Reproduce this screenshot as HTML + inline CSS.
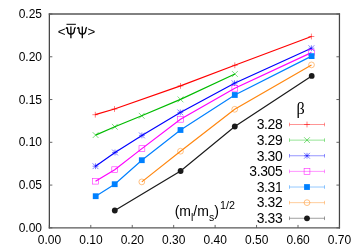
<!DOCTYPE html>
<html><head><meta charset="utf-8"><style>
html,body{margin:0;padding:0;background:#fff;}
body{width:360px;height:252px;position:relative;overflow:hidden;font-family:"Liberation Sans",sans-serif;}
svg text{font-family:"Liberation Sans",sans-serif;fill:#000;}
</style></head><body>
<svg width="360" height="252" viewBox="0 0 360 252" style="position:absolute;left:0;top:0;will-change:transform">
<path d="M49.35,13.4V228.45M339.45,13.4V228.45" fill="none" stroke="#444" stroke-width="1.25"/>
<path d="M48.75,14.0H340.05M48.75,227.85H340.05" fill="none" stroke="#585858" stroke-width="1.45"/>
<path d="M49.35,227.85v-2.9M90.79,227.85v-2.9M132.24,227.85v-2.9M173.68,227.85v-2.9M215.12,227.85v-2.9M256.56,227.85v-2.9M298.01,227.85v-2.9M339.45,227.85v-2.9M49.35,227.85h3.0M339.45,227.85h-3.0M49.35,185.08h3.0M339.45,185.08h-3.0M49.35,142.31h3.0M339.45,142.31h-3.0M49.35,99.54h3.0M339.45,99.54h-3.0M49.35,56.77h3.0M339.45,56.77h-3.0M49.35,14.00h3.0M339.45,14.00h-3.0" stroke="#555" stroke-width="0.9" fill="none"/>
<polyline points="95.30,114.70 114.50,109.00 180.50,85.90 234.80,65.30 311.40,36.50" fill="none" stroke="#ff0000" stroke-width="1.2"/>
<path d="M92.40,114.70H98.20M95.30,111.80V117.60" stroke="#ff0000" stroke-width="0.6" fill="none" opacity="0.85"/>
<path d="M111.60,109.00H117.40M114.50,106.10V111.90" stroke="#ff0000" stroke-width="0.6" fill="none" opacity="0.85"/>
<path d="M177.60,85.90H183.40M180.50,83.00V88.80" stroke="#ff0000" stroke-width="0.6" fill="none" opacity="0.85"/>
<path d="M231.90,65.30H237.70M234.80,62.40V68.20" stroke="#ff0000" stroke-width="0.6" fill="none" opacity="0.85"/>
<path d="M308.50,36.50H314.30M311.40,33.60V39.40" stroke="#ff0000" stroke-width="0.6" fill="none" opacity="0.85"/>
<polyline points="95.60,135.10 114.80,126.80 141.70,115.80 180.50,99.40 234.90,74.00" fill="none" stroke="#00bb00" stroke-width="1.2"/>
<path d="M92.70,132.20L98.50,138.00M92.70,138.00L98.50,132.20" stroke="#00bb00" stroke-width="0.6" fill="none" opacity="0.85"/>
<path d="M111.90,123.90L117.70,129.70M111.90,129.70L117.70,123.90" stroke="#00bb00" stroke-width="0.6" fill="none" opacity="0.85"/>
<path d="M138.80,112.90L144.60,118.70M138.80,118.70L144.60,112.90" stroke="#00bb00" stroke-width="0.6" fill="none" opacity="0.85"/>
<path d="M177.60,96.50L183.40,102.30M177.60,102.30L183.40,96.50" stroke="#00bb00" stroke-width="0.6" fill="none" opacity="0.85"/>
<path d="M232.00,71.10L237.80,76.90M232.00,76.90L237.80,71.10" stroke="#00bb00" stroke-width="0.6" fill="none" opacity="0.85"/>
<polyline points="95.50,166.20 115.00,152.50 141.90,135.40 180.30,112.40 234.50,83.20 311.40,48.20" fill="none" stroke="#0000ff" stroke-width="1.2"/>
<path d="M92.60,163.30L98.40,169.10M92.60,169.10L98.40,163.30M92.60,166.20H98.40M95.50,163.30V169.10" stroke="#0000ff" stroke-width="0.6" fill="none" opacity="0.85"/>
<path d="M112.10,149.60L117.90,155.40M112.10,155.40L117.90,149.60M112.10,152.50H117.90M115.00,149.60V155.40" stroke="#0000ff" stroke-width="0.6" fill="none" opacity="0.85"/>
<path d="M139.00,132.50L144.80,138.30M139.00,138.30L144.80,132.50M139.00,135.40H144.80M141.90,132.50V138.30" stroke="#0000ff" stroke-width="0.6" fill="none" opacity="0.85"/>
<path d="M177.40,109.50L183.20,115.30M177.40,115.30L183.20,109.50M177.40,112.40H183.20M180.30,109.50V115.30" stroke="#0000ff" stroke-width="0.6" fill="none" opacity="0.85"/>
<path d="M231.60,80.30L237.40,86.10M231.60,86.10L237.40,80.30M231.60,83.20H237.40M234.50,80.30V86.10" stroke="#0000ff" stroke-width="0.6" fill="none" opacity="0.85"/>
<path d="M308.50,45.30L314.30,51.10M308.50,51.10L314.30,45.30M308.50,48.20H314.30M311.40,45.30V51.10" stroke="#0000ff" stroke-width="0.6" fill="none" opacity="0.85"/>
<polyline points="95.50,181.20 114.70,169.70 141.90,148.60 180.50,119.30 234.80,88.30 311.40,52.60" fill="none" stroke="#ff00ff" stroke-width="1.2"/>
<rect x="92.60" y="178.30" width="5.8" height="5.8" stroke="#ff00ff" stroke-width="0.6" fill="none" opacity="0.85"/>
<rect x="111.80" y="166.80" width="5.8" height="5.8" stroke="#ff00ff" stroke-width="0.6" fill="none" opacity="0.85"/>
<rect x="139.00" y="145.70" width="5.8" height="5.8" stroke="#ff00ff" stroke-width="0.6" fill="none" opacity="0.85"/>
<rect x="177.60" y="116.40" width="5.8" height="5.8" stroke="#ff00ff" stroke-width="0.6" fill="none" opacity="0.85"/>
<rect x="231.90" y="85.40" width="5.8" height="5.8" stroke="#ff00ff" stroke-width="0.6" fill="none" opacity="0.85"/>
<rect x="308.50" y="49.70" width="5.8" height="5.8" stroke="#ff00ff" stroke-width="0.6" fill="none" opacity="0.85"/>
<polyline points="95.70,196.20 114.70,184.20 141.80,160.20 180.50,130.00 234.80,95.00 311.60,56.10" fill="none" stroke="#0080ff" stroke-width="1.2"/>
<rect x="92.80" y="193.30" width="5.8" height="5.8" fill="#0080ff"/>
<rect x="111.80" y="181.30" width="5.8" height="5.8" fill="#0080ff"/>
<rect x="138.90" y="157.30" width="5.8" height="5.8" fill="#0080ff"/>
<rect x="177.60" y="127.10" width="5.8" height="5.8" fill="#0080ff"/>
<rect x="231.90" y="92.10" width="5.8" height="5.8" fill="#0080ff"/>
<rect x="308.70" y="53.20" width="5.8" height="5.8" fill="#0080ff"/>
<polyline points="141.80,181.90 180.50,151.20 234.70,109.30 311.50,64.90" fill="none" stroke="#ff8710" stroke-width="1.2"/>
<circle cx="141.80" cy="181.90" r="2.9" stroke="#ff8710" stroke-width="0.6" fill="none" opacity="0.85"/>
<circle cx="180.50" cy="151.20" r="2.9" stroke="#ff8710" stroke-width="0.6" fill="none" opacity="0.85"/>
<circle cx="234.70" cy="109.30" r="2.9" stroke="#ff8710" stroke-width="0.6" fill="none" opacity="0.85"/>
<circle cx="311.50" cy="64.90" r="2.9" stroke="#ff8710" stroke-width="0.6" fill="none" opacity="0.85"/>
<polyline points="114.80,210.50 180.60,171.00 234.80,126.50 311.70,75.90" fill="none" stroke="#1a1a1a" stroke-width="1.2"/>
<circle cx="114.80" cy="210.50" r="2.9" fill="#1a1a1a"/>
<circle cx="180.60" cy="171.00" r="2.9" fill="#1a1a1a"/>
<circle cx="234.80" cy="126.50" r="2.9" fill="#1a1a1a"/>
<circle cx="311.70" cy="75.90" r="2.9" fill="#1a1a1a"/>
<path d="M289.5,124.50H324.5M289.5,122.70v3.6M324.5,122.70v3.6" stroke="#ff0000" stroke-width="0.6" fill="none" opacity="0.7"/>
<path d="M304.10,124.50H309.90M307.00,121.60V127.40" stroke="#ff0000" stroke-width="0.6" fill="none" opacity="0.85"/>
<text x="282.3" y="129.25" text-anchor="end" font-size="13.9" letter-spacing="-0.35">3.28</text>
<path d="M289.5,140.13H324.5M289.5,138.33v3.6M324.5,138.33v3.6" stroke="#00bb00" stroke-width="0.6" fill="none" opacity="0.7"/>
<path d="M304.10,137.23L309.90,143.03M304.10,143.03L309.90,137.23" stroke="#00bb00" stroke-width="0.6" fill="none" opacity="0.85"/>
<text x="282.3" y="144.88" text-anchor="end" font-size="13.9" letter-spacing="-0.35">3.29</text>
<path d="M289.5,155.76H324.5M289.5,153.96v3.6M324.5,153.96v3.6" stroke="#0000ff" stroke-width="0.6" fill="none" opacity="0.7"/>
<path d="M304.10,152.86L309.90,158.66M304.10,158.66L309.90,152.86M304.10,155.76H309.90M307.00,152.86V158.66" stroke="#0000ff" stroke-width="0.6" fill="none" opacity="0.85"/>
<text x="282.3" y="160.51" text-anchor="end" font-size="13.9" letter-spacing="-0.35">3.30</text>
<path d="M289.5,171.39H324.5M289.5,169.59v3.6M324.5,169.59v3.6" stroke="#ff00ff" stroke-width="0.6" fill="none" opacity="0.7"/>
<rect x="304.10" y="168.49" width="5.8" height="5.8" stroke="#ff00ff" stroke-width="0.6" fill="none" opacity="0.85"/>
<text x="282.3" y="176.14" text-anchor="end" font-size="13.9" letter-spacing="-0.35">3.305</text>
<path d="M289.5,187.02H324.5M289.5,185.22v3.6M324.5,185.22v3.6" stroke="#0080ff" stroke-width="0.6" fill="none" opacity="0.7"/>
<rect x="304.10" y="184.12" width="5.8" height="5.8" fill="#0080ff"/>
<text x="282.3" y="191.77" text-anchor="end" font-size="13.9" letter-spacing="-0.35">3.31</text>
<path d="M289.5,202.65H324.5M289.5,200.85v3.6M324.5,200.85v3.6" stroke="#ff8710" stroke-width="0.6" fill="none" opacity="0.7"/>
<circle cx="307.00" cy="202.65" r="2.9" stroke="#ff8710" stroke-width="0.6" fill="none" opacity="0.85"/>
<text x="282.3" y="207.40" text-anchor="end" font-size="13.9" letter-spacing="-0.35">3.32</text>
<path d="M289.5,218.28H324.5M289.5,216.48v3.6M324.5,216.48v3.6" stroke="#1a1a1a" stroke-width="0.6" fill="none" opacity="0.7"/>
<circle cx="307.00" cy="218.28" r="2.9" fill="#1a1a1a"/>
<text x="282.3" y="223.03" text-anchor="end" font-size="13.9" letter-spacing="-0.35">3.33</text>
<text x="49.45" y="244.3" text-anchor="middle" font-size="12">0.00</text>
<text x="90.89" y="244.3" text-anchor="middle" font-size="12">0.10</text>
<text x="132.34" y="244.3" text-anchor="middle" font-size="12">0.20</text>
<text x="173.78" y="244.3" text-anchor="middle" font-size="12">0.30</text>
<text x="215.22" y="244.3" text-anchor="middle" font-size="12">0.40</text>
<text x="256.66" y="244.3" text-anchor="middle" font-size="12">0.50</text>
<text x="298.11" y="244.3" text-anchor="middle" font-size="12">0.60</text>
<text x="339.55" y="244.3" text-anchor="middle" font-size="12">0.70</text>
<text x="42" y="231.85" text-anchor="end" font-size="12">0.00</text>
<text x="42" y="189.08" text-anchor="end" font-size="12">0.05</text>
<text x="42" y="146.31" text-anchor="end" font-size="12">0.10</text>
<text x="42" y="103.54" text-anchor="end" font-size="12">0.15</text>
<text x="42" y="60.77" text-anchor="end" font-size="12">0.20</text>
<text x="42" y="18.00" text-anchor="end" font-size="12">0.25</text>
<text x="57.7" y="36.2" font-size="13.3">&lt;</text>
<text x="87.6" y="36.2" font-size="13.3">&gt;</text>
<path d="M70.9,26.5V38.3" stroke="#000" stroke-width="1.3" fill="none"/><path d="M66.00,28.7C66.60,27.3 67.60,27.4 67.60,29.2L67.60,30.4C67.60,33.2 68.90,34.0 70.9,34.0C73.10,34.0 74.30,33.0 74.30,30.2L74.40,29.4C74.50,28.4 74.80,27.7 75.60,27.3" stroke="#000" stroke-width="1.35" fill="none"/>
<path d="M82.3,26.5V38.3" stroke="#000" stroke-width="1.3" fill="none"/><path d="M77.40,28.7C78.00,27.3 79.00,27.4 79.00,29.2L79.00,30.4C79.00,33.2 80.30,34.0 82.3,34.0C84.50,34.0 85.70,33.0 85.70,30.2L85.80,29.4C85.90,28.4 86.20,27.7 87.00,27.3" stroke="#000" stroke-width="1.35" fill="none"/>
<path d="M66.5,24.3H75.9" stroke="#000" stroke-width="1"/>
<text x="296.4" y="113.8" font-size="16.2" style="font-family:'Liberation Serif',serif">β</text>
<text x="174.7" y="216.0" font-size="14">(m<tspan font-size="10.5" dy="4.8">l</tspan><tspan dy="-4.8">/m</tspan><tspan font-size="10.5" dy="4.8">s</tspan><tspan dy="-4.8">)</tspan><tspan font-size="10.7" dy="-7.3" dx="1.2">1/2</tspan></text>
</svg>
</body></html>
